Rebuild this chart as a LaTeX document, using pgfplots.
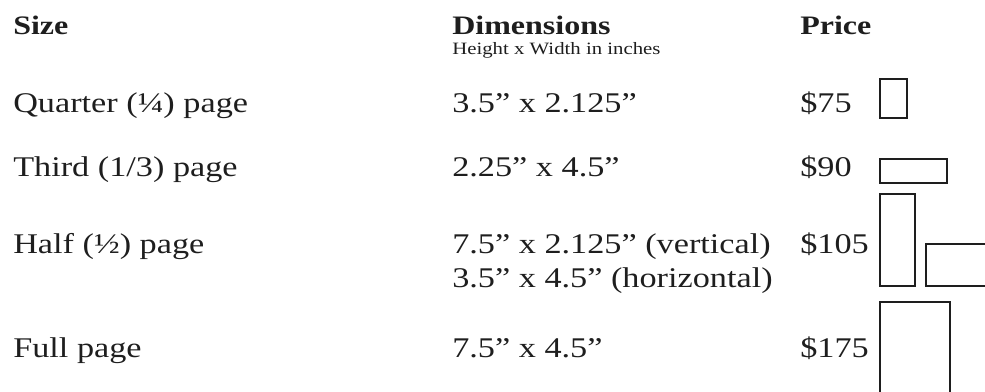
\documentclass[border=0pt]{standalone}
\usepackage{fontspec}
\setmainfont[FakeStretch=1.2]{Liberation Serif}
\usepackage{pgfplots}
\pgfplotsset{compat=1.18}

\definecolor{ink}{HTML}{1E1E1E}

\begin{document}
\begin{tikzpicture}
\begin{axis}[
    width=738.75pt, height=294pt, scale only axis,
    xmin=0, xmax=985, ymin=0, ymax=392,
    y dir=reverse,
    hide axis,
    clip=true,
]
% page-size sketches (pixel units of the reference)
\addplot[ink, line width=1.6pt, mark=none] coordinates {(880,79)(907,79)(907,118)(880,118)} --cycle;
\addplot[ink, line width=1.6pt, mark=none] coordinates {(880,159)(947,159)(947,183)(880,183)} --cycle;
\addplot[ink, line width=1.6pt, mark=none] coordinates {(880,194)(915,194)(915,286)(880,286)} --cycle;
\addplot[ink, line width=1.6pt, mark=none] coordinates {(926,244)(1000,244)(1000,286)(926,286)} --cycle;
\addplot[ink, line width=1.6pt, mark=none] coordinates {(880,302)(950,302)(950,420)(880,420)} --cycle;

\coordinate (bl) at (axis cs:0,392);
\coordinate (tr) at (axis cs:985,0);

% headers
\begin{scope}[every node/.style={anchor=base west, inner sep=0pt, text=ink}]
\node[font=\fontsize{20}{24}\selectfont\bfseries] at (axis cs:13,35) {Size};
\node[font=\fontsize{20}{24}\selectfont\bfseries] at (axis cs:452,35) {Dimensions};
\node[font=\fontsize{20}{24}\selectfont\bfseries] at (axis cs:800,35) {Price};
\node[font=\fontsize{13}{16}\selectfont] at (axis cs:452,54.5) {Height x Width in inches};

% rows
\node[font=\fontsize{21.4}{26}\selectfont] at (axis cs:13,113) {Quarter (¼) page};
\node[font=\fontsize{21.4}{26}\selectfont] at (axis cs:452,113) {3.5” x 2.125”};
\node[font=\fontsize{21.4}{26}\selectfont] at (axis cs:800,113) {\$75};

\node[font=\fontsize{21.4}{26}\selectfont] at (axis cs:13,177) {Third (1/3) page};
\node[font=\fontsize{21.4}{26}\selectfont] at (axis cs:452,177) {2.25” x 4.5”};
\node[font=\fontsize{21.4}{26}\selectfont] at (axis cs:800,177) {\$90};

\node[font=\fontsize{21.4}{26}\selectfont] at (axis cs:13,253) {Half (½) page};
\node[font=\fontsize{21.4}{26}\selectfont] at (axis cs:452,253) {7.5” x 2.125” (vertical)};
\node[font=\fontsize{21.4}{26}\selectfont] at (axis cs:452,287) {3.5” x 4.5” (horizontal)};
\node[font=\fontsize{21.4}{26}\selectfont] at (axis cs:800,253) {\$105};

\node[font=\fontsize{21.4}{26}\selectfont] at (axis cs:13,357) {Full page};
\node[font=\fontsize{21.4}{26}\selectfont] at (axis cs:452,357) {7.5” x 4.5”};
\node[font=\fontsize{21.4}{26}\selectfont] at (axis cs:800,357) {\$175};
\end{scope}
\end{axis}
\pgfresetboundingbox
\useasboundingbox (bl) rectangle (tr);
\end{tikzpicture}
\end{document}
